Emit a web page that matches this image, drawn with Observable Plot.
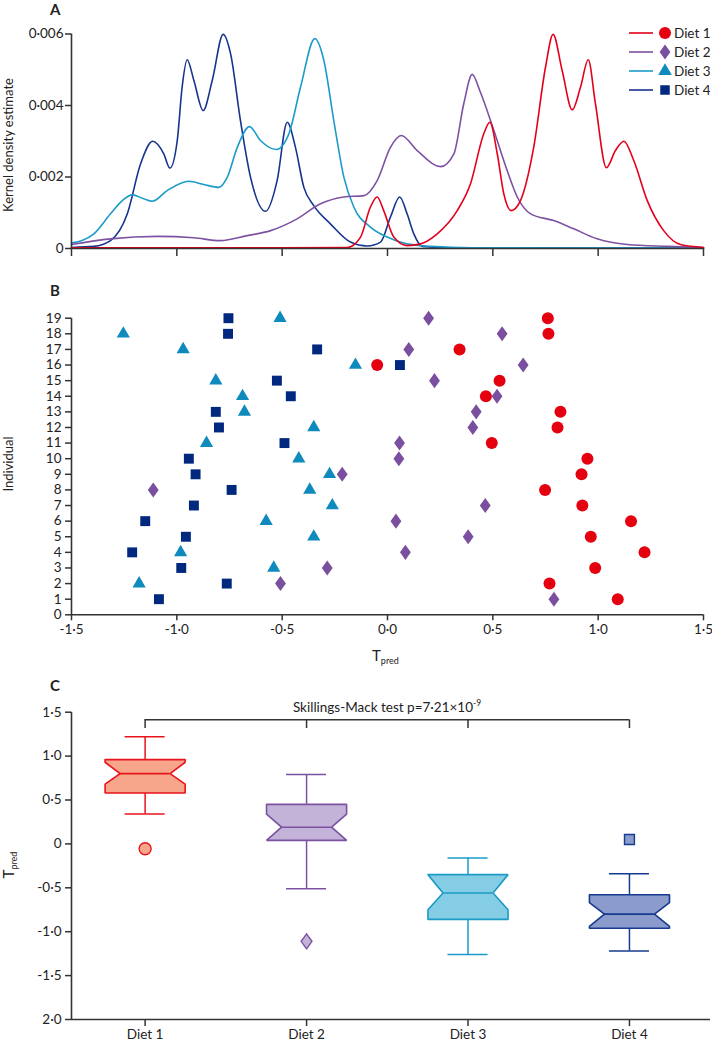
<!DOCTYPE html>
<html><head><meta charset="utf-8">
<script src="https://cdn.jsdelivr.net/npm/d3@7"></script>
<script src="https://cdn.jsdelivr.net/npm/@observablehq/plot@0.6"></script>
<style>
body{margin:0;background:#fff;font-family:Lato,sans-serif;color:#222}
#wrap{position:relative;width:712px;height:1043px;overflow:hidden;background:#fff}
#wrap > svg{position:absolute;left:0}
.lbl{position:absolute;white-space:nowrap;line-height:1.1}
.letter{font-weight:bold;font-size:15px}
.rot{transform:translate(-50%,-50%) rotate(-90deg);font-size:13px}
.tp{font-size:15px}
.tp sub{font-size:9px;vertical-align:-3px}
.sm{font-size:13.5px;transform:translateX(-50%)}
.sm sup{font-size:8.5px;vertical-align:6px}
</style></head><body><div id="wrap"></div>
<script>
// ---------- data ----------
const diets = ["Diet 1", "Diet 2", "Diet 3", "Diet 4"];
const individuals = [1,2,3,4,5,6,7,8,9,10,11,12,13,14,15,16,17,18,19];

// Panel A: kernel density estimate curves (x = Tpred, density in units of 0.001)
const kdeUnit = 0.001;
const kdeX1 = [-1.5,-0.5,-0.191,-0.128,-0.081,-0.049,-0.018,0.030,0.093,0.157,0.236,0.331,0.394,0.457,0.486,0.521,0.552,0.587,0.631,0.694,0.750,0.786,0.829,0.877,0.916,0.953,0.987,1.039,1.082,1.122,1.169,1.233,1.311,1.391,1.5];
const kdeD1 = [0.02,0.02,0.03,0.32,1.16,1.44,1.06,0.32,0.08,0.13,0.41,1.06,1.81,3.21,3.53,2.65,1.53,1.06,1.34,2.83,5.07,5.99,4.98,3.88,4.51,5.28,4.05,2.26,2.74,3.00,2.46,1.34,0.50,0.11,0.03];
const kdeX2 = [-1.5,-1.315,-1.093,-0.919,-0.793,-0.666,-0.555,-0.429,-0.318,-0.207,-0.112,-0.049,0.014,0.065,0.141,0.252,0.315,0.362,0.402,0.441,0.505,0.568,0.616,0.679,0.789,0.884,0.995,1.138,1.328,1.5];
const kdeD2 = [0.11,0.27,0.34,0.30,0.22,0.36,0.50,0.83,1.25,1.44,1.48,1.90,2.83,3.16,2.74,2.29,2.65,4.05,4.87,4.37,3.30,2.18,1.44,0.97,0.78,0.55,0.27,0.11,0.06,0.03];
const kdeX3 = [-1.5,-1.394,-1.315,-1.259,-1.212,-1.157,-1.117,-1.046,-0.943,-0.872,-0.801,-0.761,-0.713,-0.655,-0.603,-0.528,-0.468,-0.413,-0.345,-0.302,-0.255,-0.207,-0.160,-0.081,-0.001,0.077,0.204,0.4,1.5];
const kdeD3 = [0.15,0.41,0.97,1.34,1.50,1.39,1.32,1.62,1.88,1.79,1.71,1.99,2.83,3.41,3.02,2.77,3.21,4.51,5.87,5.26,3.58,1.99,1.16,0.60,0.32,0.15,0.06,0.02,0.01];
const kdeX4 = [-1.5,-1.394,-1.315,-1.235,-1.172,-1.115,-1.062,-1.033,-0.998,-0.975,-0.951,-0.919,-0.875,-0.832,-0.780,-0.745,-0.698,-0.650,-0.579,-0.524,-0.476,-0.437,-0.397,-0.350,-0.271,-0.176,-0.096,-0.033,0.014,0.058,0.093,0.125,0.165,0.3,1.5];
const kdeD4 = [0.03,0.06,0.22,0.97,2.37,3.00,2.65,2.25,3.02,4.51,5.28,4.70,3.86,4.70,5.99,5.45,3.58,1.99,1.04,1.90,3.53,2.83,1.71,1.20,0.69,0.18,0.07,0.18,0.88,1.44,0.97,0.41,0.06,0.02,0.01];
const aYTicks = [0, 0.002, 0.004, 0.006];
const aYTickLabels = ["0", "0·002", "0·004", "0·006"];
const xTicks = [-1.5, -1, -0.5, 0, 0.5, 1, 1.5];
const bXTickLabels = ["-1·5", "-1·0", "-0·5", "0·0", "0·5", "1·0", "1·5"];

// Panel B: Tpred per individual (individuals 1..19)
const tpred1 = [1.093,0.769,0.986,1.22,0.965,1.156,0.925,0.748,0.921,0.949,0.495,0.807,0.821,0.467,0.532,-0.049,0.342,0.764,0.761];
const tpred2 = [0.79,-0.508,-0.286,0.085,0.383,0.04,0.464,-1.112,-0.215,0.054,0.057,0.405,0.421,0.52,0.223,0.644,0.101,0.544,0.195];
const tpred3 = [null,-1.179,-0.54,-0.982,-0.35,-0.576,-0.262,-0.369,-0.275,-0.421,-0.859,-0.35,-0.679,-0.688,-0.815,-0.152,-0.97,-1.254,-0.51];
const tpred4 = [-1.085,-0.763,-0.979,-1.212,-0.957,-1.15,-0.919,-0.74,-0.911,-0.943,-0.489,-0.80,-0.815,-0.459,-0.525,0.059,-0.334,-0.757,-0.755];

// Panel C: notched box plot statistics
const whiskerHi = [1.22, 0.79, -0.16, -0.34];
const q3 = [0.96, 0.45, -0.35, -0.58];
const notchHi = [0.93, 0.34, -0.35, -0.67];
const medians = [0.80, 0.19, -0.56, -0.80];
const notchLo = [0.68, 0.04, -0.75, -0.94];
const q1 = [0.58, 0.04, -0.86, -0.96];
const whiskerLo = [0.34, -0.51, -1.26, -1.22];
const outliers = [-0.055, -1.11, null, 0.05];
const cYTicks = [-2, -1.5, -1, -0.5, 0, 0.5, 1, 1.5];
const cYTickLabels = ["2·0", "-1·5", "-1·0", "-0·5", "0", "0·5", "1·0", "1·5"];
const testLabel = "Skillings-Mack test p=7·21×10";
const testExponent = "-9";

// ---------- styles ----------
const lineColors = ["#e3001b", "#7d52a3", "#1c9bc9", "#17348f"];
const pointColors = ["#e5000f", "#7a4f9f", "#0f8abd", "#00287f"];
const boxStroke = ["#e8141c", "#7a52a1", "#1a9cc6", "#153a8e"];
const boxFill = ["#f7a68b", "#c4b3d9", "#84cde4", "#8a9bcc"];
const axisColor = "#333";
const baseStyle = {fontFamily: "Lato, sans-serif", fontSize: "13.5px", color: "#222", background: "transparent", overflow: "visible"};
const fmt = (ticks, labels) => { const m = new Map(ticks.map((t, i) => [t, labels[i]])); return d => m.get(d) ?? ""; };

const diamondTall = {draw(ctx, size) { const h = Math.sqrt(size / 1.44), w = 0.72 * h; ctx.moveTo(0, -h); ctx.lineTo(w, 0); ctx.lineTo(0, h); ctx.lineTo(-w, 0); ctx.closePath(); }};
const symbols = ["circle", diamondTall, "triangle", "square"];
const symbolR = [6, 5.1, 4.9, 5.6];

const wrap = document.getElementById("wrap");
function place(svg, top) { svg.style.top = top + "px"; wrap.appendChild(svg); }
function label(html, cls, left, top) { const d = document.createElement("div"); d.className = "lbl " + cls; d.innerHTML = html; d.style.left = left + "px"; d.style.top = top + "px"; wrap.appendChild(d); }

// ---------- Panel A ----------
const kdeSets = [[kdeX4, kdeD4, 3], [kdeX3, kdeD3, 2], [kdeX2, kdeD2, 1], [kdeX1, kdeD1, 0]];
const kdeRows = kdeSets.flatMap(([xs, ds, i]) => xs.map((x, j) => ({diet: diets[i], x, d: ds[j] * kdeUnit})));
const plotA = Plot.plot({
  width: 712, height: 262, marginLeft: 71, marginRight: 9, marginTop: 33.5, marginBottom: 14,
  style: baseStyle,
  x: {domain: [xTicks[0], xTicks[xTicks.length - 1]]},
  y: {domain: [aYTicks[0], aYTicks[aYTicks.length - 1]]},
  color: {domain: diets, range: lineColors},
  marks: [
    Plot.line(kdeRows, {x: "x", y: "d", z: "diet", stroke: "diet", strokeWidth: 1.6, curve: "monotone-x"}),
    Plot.ruleY([aYTicks[0]], {stroke: axisColor, strokeWidth: 1.6}),
    Plot.ruleX([xTicks[0]], {stroke: axisColor, strokeWidth: 1.6}),
    Plot.axisY({ticks: aYTicks, tickFormat: fmt(aYTicks, aYTickLabels), tickSize: 6, tickPadding: 2, label: null, stroke: axisColor, strokeWidth: 1.5}),
    Plot.axisX({ticks: xTicks, tickFormat: () => "", tickSize: 8, label: null, stroke: axisColor, strokeWidth: 1.5})
  ]
});
place(plotA, 0);

// ---------- Panel B ----------
const tpreds = [tpred1, tpred2, tpred3, tpred4];
const rowsB = tpreds.flatMap((arr, i) => individuals.map((ind, j) => ({diet: diets[i], k: i, ind, t: arr[j]})).filter(d => d.t != null));
const plotB = Plot.plot({
  width: 712, height: 408, marginLeft: 71, marginRight: 9, marginTop: 55.7, marginBottom: 55.7,
  style: baseStyle,
  x: {domain: [xTicks[0], xTicks[xTicks.length - 1]]},
  y: {domain: [0, individuals[individuals.length - 1]]},
  marks: [
    Plot.ruleY([0], {stroke: axisColor, strokeWidth: 1.6}),
    Plot.ruleX([xTicks[0]], {stroke: axisColor, strokeWidth: 1.6}),
    Plot.axisY({ticks: [0, ...individuals], tickSize: 6, tickPadding: 4, label: null, stroke: axisColor, strokeWidth: 1.5}),
    Plot.axisX({ticks: xTicks, tickFormat: fmt(xTicks, bXTickLabels), tickSize: 6, tickPadding: 4, label: null, stroke: axisColor, strokeWidth: 1.5}),
    ...[3, 2, 1, 0].map(i => Plot.dot(rowsB, {filter: d => d.k === i, x: "t", y: "ind", symbol: symbols[i], r: symbolR[i], fill: pointColors[i], stroke: "none"}))
  ]
});
place(plotB, 262);

// ---------- Panel C ----------
const boxHalf = 0.248, notchHalf = 0.155, capHalf = 0.124;
const stats = diets.map((diet, i) => ({diet, i, c: i + 1, whiskerHi: whiskerHi[i], q3: q3[i], notchHi: notchHi[i], median: medians[i], notchLo: notchLo[i], q1: q1[i], whiskerLo: whiskerLo[i], outlier: outliers[i]}));
const boxPoly = s => [
  [s.c - boxHalf, s.q3], [s.c + boxHalf, s.q3], [s.c + boxHalf, s.notchHi], [s.c + notchHalf, s.median],
  [s.c + boxHalf, s.notchLo], [s.c + boxHalf, s.q1], [s.c - boxHalf, s.q1], [s.c - boxHalf, s.notchLo],
  [s.c - notchHalf, s.median], [s.c - boxHalf, s.notchHi], [s.c - boxHalf, s.q3]
].map(([x, y]) => ({x, y}));
const cX0 = 0.544, cX1 = 4.502;
const bracketY = 1.413, bracketDrop = 1.314;
const marksC = [
  Plot.ruleY([cYTicks[0]], {stroke: axisColor, strokeWidth: 1.6}),
  Plot.ruleX([cX0], {stroke: axisColor, strokeWidth: 1.6}),
  Plot.axisY({ticks: cYTicks, tickFormat: fmt(cYTicks, cYTickLabels), tickSize: 6, tickPadding: 4, label: null, stroke: axisColor, strokeWidth: 1.5}),
  Plot.axisX({ticks: stats.map(s => s.c), tickFormat: fmt(stats.map(s => s.c), diets), tickSize: 7, tickPadding: 3, label: null, stroke: axisColor, strokeWidth: 1.5}),
  Plot.ruleY([bracketY], {x1: stats[0].c, x2: stats[3].c, stroke: axisColor, strokeWidth: 1.5}),
  Plot.ruleX(stats, {x: "c", y1: bracketY, y2: bracketDrop, stroke: axisColor, strokeWidth: 1.5})
];
stats.forEach(s => {
  const st = boxStroke[s.i], fl = boxFill[s.i];
  marksC.push(
    Plot.ruleX([s], {x: "c", y1: "q3", y2: "whiskerHi", stroke: st, strokeWidth: 1.5}),
    Plot.ruleX([s], {x: "c", y1: "q1", y2: "whiskerLo", stroke: st, strokeWidth: 1.5}),
    Plot.ruleY([s], {y: "whiskerHi", x1: d => d.c - capHalf, x2: d => d.c + capHalf, stroke: st, strokeWidth: 1.5}),
    Plot.ruleY([s], {y: "whiskerLo", x1: d => d.c - capHalf, x2: d => d.c + capHalf, stroke: st, strokeWidth: 1.5}),
    Plot.line(boxPoly(s), {x: "x", y: "y", fill: fl, stroke: st, strokeWidth: 1.6, strokeLinejoin: "miter"}),
    Plot.ruleY([s], {y: "median", x1: d => d.c - notchHalf, x2: d => d.c + notchHalf, stroke: st, strokeWidth: 1.6})
  );
  if (s.outlier != null) marksC.push(Plot.dot([s], {x: "c", y: "outlier", symbol: symbols[s.i], r: symbolR[s.i], fill: fl, stroke: st, strokeWidth: 1.4}));
});
const plotC = Plot.plot({
  width: 712, height: 373, marginLeft: 71, marginRight: 2, marginTop: 41.7, marginBottom: 24,
  style: baseStyle,
  x: {domain: [cX0, cX1]},
  y: {domain: [cYTicks[0], cYTicks[cYTicks.length - 1]]},
  marks: marksC
});
place(plotC, 670);

// ---------- labels ----------
label("A", "letter", 50, 1);
label("B", "letter", 50, 282);
label("C", "letter", 50, 677);
label("Kernel density estimate", "rot", 8, 145);
label("Individual", "rot", 8, 464);
label('<span class="tp">T<sub>pred</sub></span>', "rot", 9, 865);
label('<span class="tp">T<sub>pred</sub></span>', "", 372, 646);
label(testLabel + "<sup>" + testExponent + "</sup>", "sm", 387, 699);

// legend
const ns = "http://www.w3.org/2000/svg";
const leg = document.createElementNS(ns, "svg");
leg.setAttribute("width", 90); leg.setAttribute("height", 85);
leg.style.left = "620px"; leg.style.top = "20px"; leg.style.position = "absolute";
const legSym = [d3.symbol(d3.symbolCircle, Math.PI * 36)(), d3.symbol(diamondTall, 81)(), d3.symbol(d3.symbolTriangle, 80)(), d3.symbol(d3.symbolSquare, 90)()];
diets.forEach((d, i) => {
  const y = 13 + i * 19;
  const g = document.createElementNS(ns, "g");
  g.innerHTML = `<line x1="9" x2="33" y1="${y}" y2="${y}" stroke="${lineColors[i]}" stroke-width="1.6"/>` +
    `<path d="${legSym[i]}" transform="translate(45,${y})" fill="${pointColors[i]}"/>` +
    `<text x="54" y="${y}" dy="0.36em" font-family="Lato, sans-serif" font-size="13.5" fill="#222">${d}</text>`;
  leg.appendChild(g);
});
wrap.appendChild(leg);
</script></body></html>
